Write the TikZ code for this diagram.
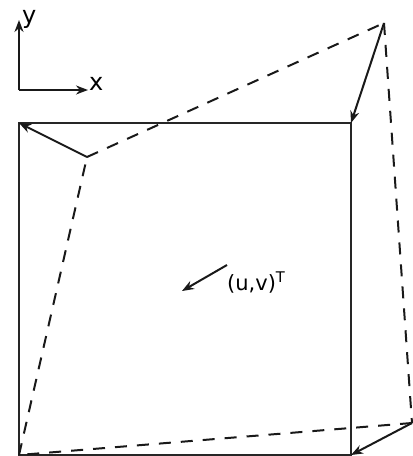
\documentclass[tikz,border=0pt]{standalone}
\usepackage{fontspec}
\setmainfont{DejaVu Sans}
\usetikzlibrary{arrows.meta}
\begin{document}
\begin{tikzpicture}[x=1pt,y=-1pt,
  edge/.style={line width=2pt, black!85},
  dashedge/.style={line width=2pt, black!90, dash pattern=on 12pt off 10pt},
  vec/.style={line width=2pt, black!90, -{Stealth[length=12pt,width=9pt]}},
  lab/.style={inner sep=0pt, font=\fontsize{24}{26}\selectfont}]
\useasboundingbox (0,0) rectangle (413,456);
% axes
\coordinate (o) at (19,90);
\coordinate (ytip) at (19,20);
\coordinate (xtip) at (88,90);
\draw[vec] (o) -- (ytip);
\draw[vec] (o) -- (xtip);
\node[lab, anchor=base west] (ylab) at (22,23) {y};
\node[lab, anchor=base west] (xlab) at (89,90) {x};
% square
\coordinate (A) at (19,123);
\coordinate (B) at (351,123);
\coordinate (C) at (351,455);
\coordinate (D) at (19,455);
\draw[edge] (A) -- (B) -- (C) -- (D) -- cycle;
% deformed quad
\coordinate (A2) at (87,157);
\coordinate (B2) at (384,23);
\coordinate (C2) at (412,423);
\coordinate (D2) at (19,455);
\draw[dashedge] (A2) -- (B2);
\draw[dashedge] (B2) -- (C2);
\draw[dashedge] (C2) -- (D2);
\draw[dashedge] (D2) -- (A2);
% displacement arrows
\draw[vec] (A2) -- (A);
\draw[vec] (B2) -- (B);
\draw[vec] (C2) -- (C);
% central vector
\coordinate (u1) at (227,265);
\coordinate (u2) at (182,291);
\draw[vec] (u1) -- (u2);
\node[lab, anchor=base west, font=\fontsize{21}{23}\selectfont] (uv) at (227,290) {(u,v)\textsuperscript{T}};
\end{tikzpicture}
\end{document}
